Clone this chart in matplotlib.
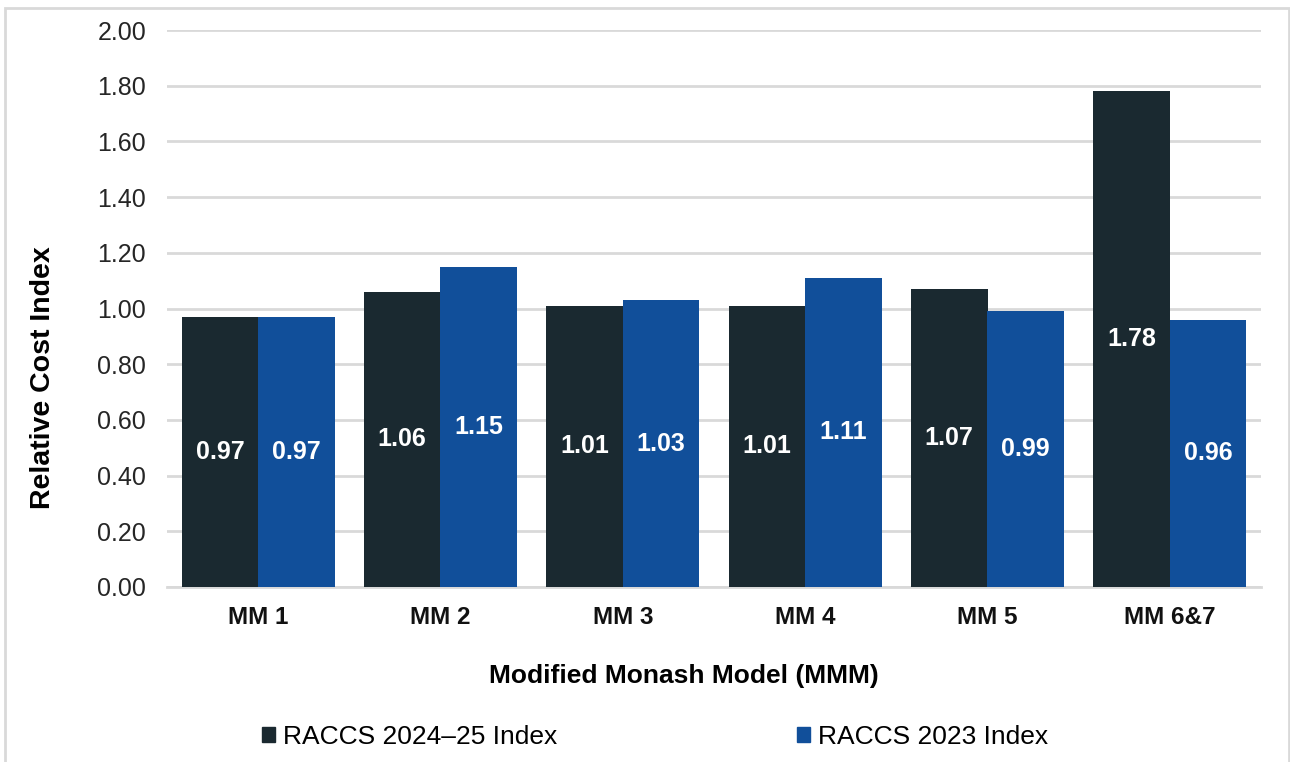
import matplotlib
matplotlib.use("Agg")
import matplotlib.pyplot as plt
import numpy as np
from matplotlib.patches import Rectangle, Patch

plt.rcParams['font.family'] = ['Liberation Sans', 'DejaVu Sans']

categories = ["MM 1", "MM 2", "MM 3", "MM 4", "MM 5", "MM 6&7"]
series_names = ["RACCS 2024\u201325 Index", "RACCS 2023 Index"]
values_2024 = [0.97, 1.06, 1.01, 1.01, 1.07, 1.78]
values_2023 = [0.97, 1.15, 1.03, 1.11, 0.99, 0.96]
yticks = [0.0, 0.2, 0.4, 0.6, 0.8, 1.0, 1.2, 1.4, 1.6, 1.8, 2.0]

c_dark = "#1A2930"
c_blue = "#114F9A"
grid_c = "#D9D9D9"

fig = plt.figure(figsize=(12.9, 7.62), dpi=100)
ax = fig.add_axes([167/1290, 1-587/762, (1261-167)/1290, (587-30)/762])

x = np.arange(len(categories))
w = 0.42
b1 = ax.bar(x - w/2, values_2024, w, color=c_dark, zorder=3)
b2 = ax.bar(x + w/2, values_2023, w, color=c_blue, zorder=3)

for bars, vals in ((b1, values_2024), (b2, values_2023)):
    for r, v in zip(bars, vals):
        ax.text(r.get_x() + r.get_width()/2, v/2, f"{v:.2f}", ha="center", va="center",
                color="white", fontsize=18, fontweight="bold", zorder=4)

ax.set_xlim(-0.5, len(categories) - 0.5)
ax.set_ylim(0, 2.0)
ax.set_yticks(yticks)
ax.set_yticklabels([f"{t:.2f}" for t in yticks], fontsize=18, color="#262626")
ax.set_xticks(x)
ax.set_xticklabels(categories, fontsize=17.5, fontweight="bold", color="#111111")
ax.yaxis.grid(True, color=grid_c, linewidth=2, zorder=0)
ax.set_axisbelow(True)
for s in ("top", "right", "left"):
    ax.spines[s].set_visible(False)
ax.spines["bottom"].set_color(grid_c)
ax.spines["bottom"].set_linewidth(2)
ax.tick_params(axis="both", length=0)
ax.tick_params(axis="y", pad=15)
ax.tick_params(axis="x", pad=14)

ax.set_ylabel("Relative Cost Index", fontsize=20.5, fontweight="bold")
ax.yaxis.set_label_coords((43-167)/1094, (587-378)/557)
ax.set_xlabel("Modified Monash Model (MMM)", fontsize=19, fontweight="bold")
ax.xaxis.set_label_coords((684-167)/1094, -(676-587)/557)
ax.xaxis.label.set_va("center")
ax.yaxis.label.set_va("center")

handles = [Patch(color=c_dark), Patch(color=c_blue)]
fig.legend(handles, series_names, loc="center", bbox_to_anchor=(655/1290, 1-737/762),
           ncol=2, frameon=False, fontsize=19, handlelength=0.5, handleheight=0.5,
           handletextpad=0.3, columnspacing=9.1, borderpad=0, borderaxespad=0)

fig.patches.append(Rectangle((5/1290, -0.05), (1289-5)/1290, 1.05 - 8/762,
                             transform=fig.transFigure, fill=False,
                             edgecolor="#D9D9D9", linewidth=2))

fig.savefig("out.png", dpi=100, facecolor="white")
